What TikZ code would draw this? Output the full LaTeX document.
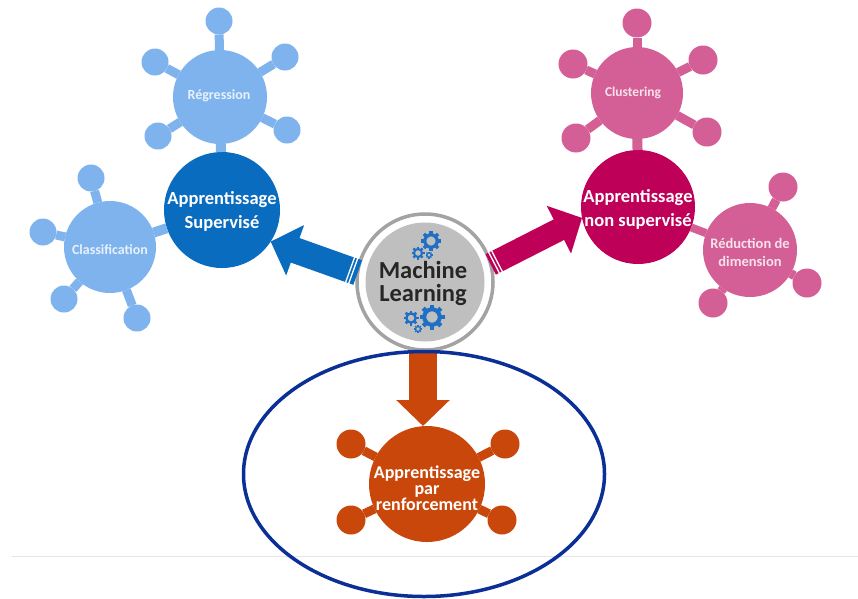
\documentclass[tikz,border=0pt]{standalone}
\usepackage{fontspec}
\setmainfont[Ligatures=TeX,Contextuals=NoAlternate]{Carlito}
\usetikzlibrary{arrows.meta,shapes.geometric}
\definecolor{lblue}{HTML}{7FB3EE}
\definecolor{dblue}{HTML}{0A6CBF}
\definecolor{lpink}{HTML}{D45F96}
\definecolor{dpink}{HTML}{BE0058}
\definecolor{orng}{HTML}{C9470A}
\definecolor{navy}{HTML}{0A2F96}
\definecolor{gearblue}{HTML}{1F6FC4}
\definecolor{core}{HTML}{BFBFBF}
\definecolor{ringgray}{HTML}{A3A3A3}
\tikzset{
  disc/.style={circle,inner sep=0pt,outer sep=0pt,draw=none,minimum size=#1},
  hub/.style={disc=116pt},
  sat/.style={disc=27pt},
  satb/.style={disc=29pt},
  lbls/.style={font=\fontsize{14}{16}\selectfont\bfseries,text=white!82!lblue,align=center,inner sep=0pt},
  lblb/.style={font=\fontsize{18.5}{24}\selectfont\bfseries,text=white,align=center,inner sep=0pt},
  link/.style={line width=9pt},
  bigarrow/.style={-{Triangle[length=26pt,width=52pt]},line width=#1},
  stripes/.style={draw=white,line width=30pt,dash pattern=on 1.3pt off 2pt on 1.3pt off 300pt},
  gearp/.style={gearblue}
}
\newcommand{\mygear}[3]{%
  \begin{scope}[shift={(#1,#2)},gearp]
    \draw[line width=#3*0.32pt] (0,0) circle[radius=#3*0.62];
    \foreach \a in {0,45,...,315}{
      \draw[line width=#3*0.34pt] (\a:#3*0.7) -- (\a:#3);
    }
  \end{scope}}
\begin{document}
\begin{tikzpicture}[x=1pt,y=-1pt]
\useasboundingbox (0,0) rectangle (858,598);
\fill[white] (0,0) rectangle (858,598);
\coordinate (ruleL) at (12,556);
\coordinate (ruleR) at (858,556);
\draw[black!10,line width=0.8pt] (ruleL) -- (ruleR);

% ---- supervise
\node[hub,fill=dblue] (sup) at (222,210) {};
\node[disc=94pt,fill=lblue] (reg) at (220,97) {};
\node[disc=92pt,fill=lblue] (cla) at (110,247) {};
\foreach \n/\x/\y in {r1/219/21,r2/285/57,r3/287/130,r4/158/136,r5/155/62}{
  \node[sat,fill=lblue] (\n) at (\x,\y) {};
  \draw[link,lblue] (\n) -- (reg);
}
\foreach \n/\x/\y in {c1/91/178,c2/43/232,c3/64/299,c4/137/318}{
  \node[sat,fill=lblue] (\n) at (\x,\y) {};
  \draw[link,lblue] (\n) -- (cla);
}
\draw[lblue,line width=10pt] (reg) -- (sup);
\draw[lblue,line width=10pt] (cla) -- (sup);

% ---- non supervise
\node[disc=114pt,fill=dpink] (nsup) at (638,207) {};
\node[disc=92pt,fill=lpink] (clu) at (637,93) {};
\node[disc=94pt,fill=lpink] (red) at (750,250) {};
\foreach \n/\x/\y in {u1/637/23,u2/703/60,u3/707/132,u4/576/138,u5/573/64}{
  \node[satb,fill=lpink] (\n) at (\x,\y) {};
  \draw[link,lpink] (\n) -- (clu);
}
\foreach \n/\x/\y in {d1/783/187,d2/807/283,d3/713/303}{
  \node[satb,fill=lpink] (\n) at (\x,\y) {};
  \draw[link,lpink] (\n) -- (red);
}
\draw[lpink,line width=10pt] (clu) -- (nsup);
\draw[lpink,line width=8pt] (red) -- (nsup);

% ---- renforcement
\node[hub,fill=orng] (ren) at (427,484) {};
\foreach \n/\x/\y in {o1/351/444,o2/505/444,o3/351/520,o4/502/520}{
  \node[satb,fill=orng] (\n) at (\x,\y) {};
  \draw[link,orng] (\n) -- (ren);
}

% ---- centre
\node[disc=136pt,fill=white,draw=ringgray,line width=3.5pt] (ml) at (425,282) {};
\node[disc=119pt,fill=core] (mlcore) at (425,282) {};

% ---- big arrows
\draw[bigarrow=26pt,dblue] (ml.172) -- (sup.-33);
\draw[stripes] ([shift={(-1,0)}]ml.172) ++(-3,-1) -- (sup.-33);
\draw[bigarrow=23pt,dpink] (ml.15) -- (nsup.191);
\draw[stripes,line width=27pt] ([shift={(3,-1)}]ml.15) -- (nsup.191);
\draw[bigarrow=28pt,orng] ([xshift=-2pt]ml.south) -- ([xshift=-4pt]ren.north);

% ---- gears
\mygear{431}{241}{10}
\mygear{418}{253}{6.5}
\mygear{429}{255}{3.5}
\mygear{432}{317}{12.5}
\mygear{411}{318}{7.5}
\mygear{418}{329}{4}

% ---- texts
\node[font=\fontsize{24.5}{23}\selectfont\bfseries,text=black!85,align=center,inner sep=0pt] (mltext) at (423,283) {Machine\\Learning};
\node[lblb] (suptext) at (222,211) {Apprentissage\\Supervisé};
\node[lblb] (nsuptext) at (638,209) {Apprentissage\\non supervisé};
\node[lblb,font=\fontsize{18}{16}\selectfont\bfseries] (rentext) at (427,488) {Apprentissage\\par\\renforcement};
\node[lbls] (regtext) at (219,96) {Régression};
\node[lbls] (clatext) at (110,250) {Classification};
\node[lbls,text=white!82!lpink,font=\fontsize{13.5}{16}\selectfont\bfseries] (clutext) at (633,93) {Clustering};
\node[lbls,text=white!82!lpink,font=\fontsize{14.5}{18}\selectfont\bfseries] (redtext) at (750,252) {Réduction de\\dimension};

% ---- ellipse
\node[ellipse,draw=navy,line width=3.5pt,inner sep=0pt,outer sep=0pt,minimum width=361pt,minimum height=245pt] (focus) at (424,474) {};
\end{tikzpicture}
\end{document}
